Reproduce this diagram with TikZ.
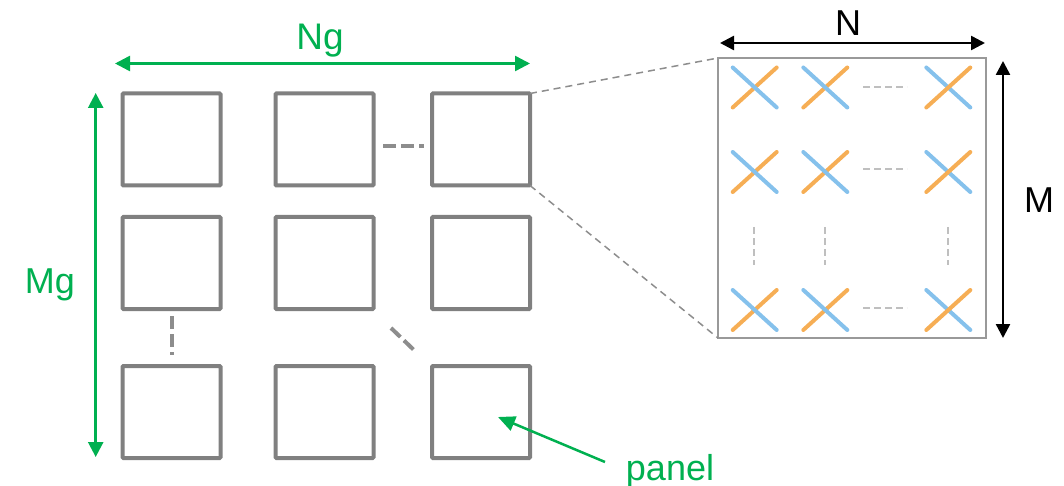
\documentclass[tikz,border=0pt]{standalone}
\usepackage{fontspec}
\setmainfont{Liberation Sans}
\usetikzlibrary{arrows.meta}
\definecolor{pgreen}{HTML}{00B050}
\definecolor{sqgray}{HTML}{808080}
\definecolor{boxgray}{HTML}{999999}
\definecolor{dashgray}{HTML}{BFBFBF}
\definecolor{xblue}{HTML}{85C1EC}
\definecolor{xorange}{HTML}{F6AE55}
\begin{document}
\begin{tikzpicture}[x=1pt,y=-1pt,
  sq/.style={draw=sqgray,line width=4pt,minimum width=98pt,minimum height=92pt,inner sep=0pt,outer sep=0pt,rounded corners=1pt},
  bigdash/.style={draw=sqgray!90,line width=4pt,dash pattern=on 13pt off 5pt},
  zoomline/.style={draw=sqgray!90,line width=1.5pt,dash pattern=on 7pt off 5pt},
  smalldash/.style={draw=dashgray,line width=2pt,dash pattern=on 7pt off 4pt},
  garrow/.style={draw=pgreen,line width=2.5pt,{Triangle[length=15pt,width=15pt]}-{Triangle[length=15pt,width=15pt]}},
  karrow/.style={draw=black,line width=2.5pt,{Triangle[length=14pt,width=14pt]}-{Triangle[length=14pt,width=14pt]}},
  lbl/.style={font=\fontsize{36}{40}\selectfont,inner sep=0pt,anchor=base},
  xb/.style={draw=xblue,line width=4pt,line cap=round},
  xo/.style={draw=xorange,line width=4pt,line cap=round}
]
\useasboundingbox (0,0) rectangle (1064,486);

% grid of panels
\node[sq] (s11) at (171.5,139.5) {};
\node[sq] (s12) at (324.5,139.5) {};
\node[sq] (s13) at (481,139.5) {};
\node[sq] (s21) at (171.5,263) {};
\node[sq] (s22) at (324.5,263) {};
\node[sq] (s23) at (481,263) {};
\node[sq] (s31) at (171.5,412) {};
\node[sq] (s32) at (324.5,412) {};
\node[sq] (s33) at (481,412) {};

% ellipsis dashes in grid
\draw[bigdash] (383,146) -- (424,146);
\draw[bigdash] (171.7,316) -- (171.7,355);
\draw[bigdash] (391,328) -- (416,352);

% dimension arrows of grid
\draw[garrow] (115,63.5) -- (530,63.5);
\node[lbl,text=pgreen,font=\fontsize{37}{40}\selectfont] (ng) at (320,50) {Ng};
\draw[garrow] (95.7,93) -- (95.7,457);
\node[lbl,text=pgreen] (mg) at (50,293) {Mg};

% panel label
\node[lbl,text=pgreen] (panel) at (670,480) {panel};
\coordinate (pstart) at (605,462);
\coordinate (ptip) at (498,417);
\draw[draw=pgreen,line width=2.5pt,-{Triangle[length=17pt,width=15pt]}] (pstart) -- (ptip);

% zoomed panel
\node[draw=boxgray,line width=2.5pt,minimum width=268pt,minimum height=280pt,inner sep=0pt,outer sep=0pt] (big) at (852,198) {};
\draw[zoomline] (s13.north east) -- (big.north west);
\draw[zoomline] (s13.south east) -- (big.south west);

% crosses
\foreach \cx in {754.7,825.3}{
  \foreach \cy in {87.5,172,310}{
    \draw[xo] (\cx-22,\cy+20) -- (\cx+22,\cy-20);
    \draw[xb] (\cx-22,\cy-20) -- (\cx+22,\cy+20);
  }
}
\foreach \cy in {87.5,172,310}{
  \draw[xb] (948.3-22,\cy-20) -- (948.3+22,\cy+20);
  \draw[xo] (948.3-22,\cy+20) -- (948.3+22,\cy-20);
}

% small dashes
\foreach \cy in {87.3,169.3,308.3}{
  \draw[smalldash] (863,\cy) -- (907,\cy);
}
\foreach \cx in {754.3,825,947.7}{
  \draw[smalldash] (\cx,227) -- (\cx,265);
}

% N and M arrows
\draw[karrow] (720,43) -- (985,43);
\node[lbl] (nl) at (848,36) {N};
\draw[karrow] (1003,61) -- (1003,338);
\node[lbl] (ml) at (1039,213) {M};
\end{tikzpicture}
\end{document}
